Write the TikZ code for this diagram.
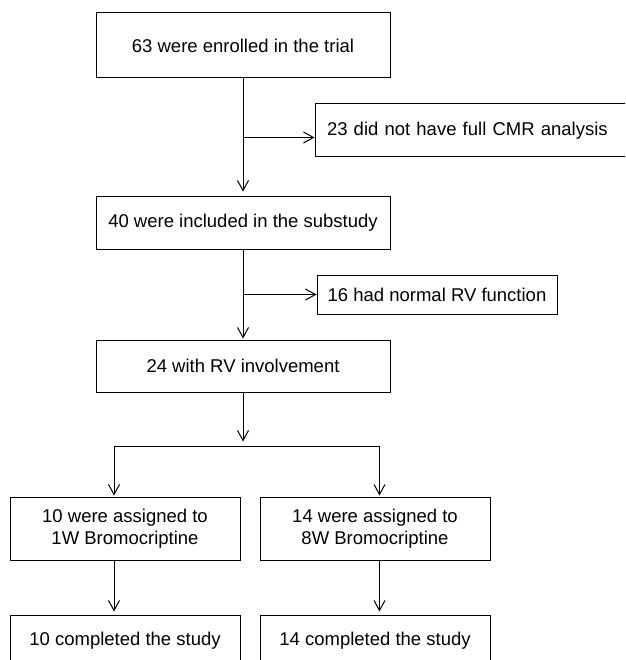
\documentclass[tikz,border=0pt]{standalone}
\usepackage{fontspec}
\setmainfont{Liberation Sans}
\usepackage{tikz}
\usetikzlibrary{arrows.meta,positioning,calc}

\begin{document}
\begin{tikzpicture}[x=1pt,y=-1pt,
    >={Straight Barb[length=10pt,width=11pt]},line width=1pt,
    box/.style={draw,rectangle,align=center,inner sep=0pt,
      font=\fontsize{18.5}{22.3}\selectfont},
    bigbox/.style={box,minimum width=294pt,minimum height=52pt},
    armbox/.style={box,minimum width=230pt,minimum height=63pt}]
  \useasboundingbox (0,0) rectangle (625,660);
  \clip (0,0) rectangle (625,660);

  \node[bigbox,minimum height=65pt] (enrol) at (243,45.5) {63 were enrolled in the trial};
  \node[bigbox] (sub) [below=118pt of enrol] {40 were included in the substudy};
  \node[bigbox] (rvinv) [below=90pt of sub] {24 with RV involvement};

  \node[box,anchor=north west,minimum height=53pt,text width=306pt,
    align=left,inner xsep=12pt] (cmr)
    at ([xshift=-76pt,yshift=-25pt]enrol.south east) {23 did not have full CMR analysis};
  \node[box,anchor=north west,minimum width=240pt,minimum height=39pt] (rvnorm)
    at ([xshift=-74pt,yshift=-25pt]sub.south east) {16 had normal RV function};

  \node[armbox,anchor=north east] (w1)
    at ([xshift=-2.5pt,yshift=-104pt]rvinv.south) {10 were assigned to\\1W Bromocriptine};
  \node[armbox] (w8) [right=19pt of w1] {14 were assigned to\\8W Bromocriptine};

  \node[armbox,minimum height=52pt] (done1) [below=54pt of w1] {10 completed the study};
  \node[armbox,minimum height=52pt] (done8) [below=54pt of w8] {14 completed the study};

  % main line
  \draw[->,shorten >=5pt] (enrol) -- (sub);
  \draw[->,shorten >=1pt] (sub) -- (rvinv);
  \draw[->] ($(enrol.south)!0.5!(sub.north)$) coordinate (m1) -- (m1 -| cmr.west);
  \draw[->] ($(sub.south)!0.5!(rvinv.north)$) coordinate (m2) -- (m2 -| rvnorm.west);

  % split to the two arms
  \coordinate (split) at ([yshift=-54pt]rvinv.south);
  \coordinate (l) at ([xshift=-11pt]w1.north);
  \coordinate (r) at ([xshift=4.5pt]w8.north);
  \draw[->,shorten >=5pt] (rvinv) -- (split);
  \draw (split -| l) -- (split -| r);
  \draw[->,shorten >=1pt] (split -| l) -- (l);
  \draw[->,shorten >=1pt] (split -| r) -- (r);
  \draw[->,shorten >=3pt] (w1.south -| l) -- (done1.north -| l);
  \draw[->,shorten >=3pt] (w8.south -| r) -- (done8.north -| r);
\end{tikzpicture}
\end{document}
